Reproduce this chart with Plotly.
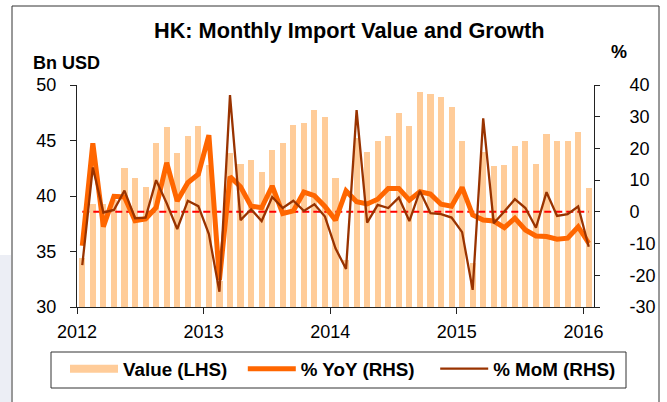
import plotly.graph_objects as go

# ---- data ----
year_ticks = ["2012", "2013", "2014", "2015", "2016"]
lhs_ticks = [30, 35, 40, 45, 50]
rhs_ticks = [-30, -20, -10, 0, 10, 20, 30, 40]
rhs_tick_text = ["-30", "-20", "-10", "0", "10", "20", "30", "40"]
n_months = 49  # Jan 2012 .. Jan 2016

value_bn = [34.4, 39.3, 39.3, 39.6, 42.5, 41.6, 40.8, 44.8, 46.25, 43.85, 45.4, 46.3,
            42.8, 32.3, 43.9, 42.85, 43.25, 42.2, 44.15, 44.75, 46.4, 46.6, 47.75, 47.1,
            41.65, 34.2, 45.2, 44.0, 44.95, 45.45, 47.5, 46.3, 49.35, 49.2, 48.9, 48.0,
            44.95, 34.0, 44.0, 42.7, 42.8, 44.5, 45.0, 42.85, 45.6, 45.0, 44.95, 45.75,
            40.75]

yoy_pct = [-10.7, 21.6, -4.7, 4.9, 4.7, -2.8, -2.2, 1.35, 15.5, 3.4, 9.2, 11.85,
           24.2, -21.5, 11.1, 7.9, 1.8, 1.3, 8.15, -0.5, 0.3, 6.25, 5.1, 1.7,
           -2.6, 6.6, 3.2, 2.5, 4.0, 7.4, 7.4, 3.7, 6.35, 5.6, 2.4, 1.8,
           7.7, -1.0, -2.6, -2.9, -5.0, -2.0, -5.7, -7.6, -7.8, -8.6, -8.3, -4.7,
           -9.9]

mom_pct = [-16.8, 14.0, -0.2, 0.6, 6.7, -2.0, -1.8, 10.0, 2.7, -5.4, 3.5, 1.8,
           -7.0, -25.2, 36.8, -2.6, 0.8, -2.9, 4.7, 1.2, 3.5, 0.3, 2.4, -1.5,
           -11.5, -18.0, 32.1, -3.4, 2.2, 1.2, 4.5, -2.9, 6.6, -0.4, -0.7, -1.8,
           -6.4, -24.6, 29.5, -3.6, 0.1, 4.0, 1.2, -5.0, 6.2, -1.3, -0.7, 1.7,
           -11.0]

zero_line = [0] * n_months

# month positions: each month occupies one unit, bar centred mid-month
x = [i + 0.5 for i in range(n_months)]
tick_pos = [12 * k for k in range(len(year_ticks))]

FONT = "Liberation Sans, Arial, sans-serif"
AX = "#222222"
TICK = 18
NB = "\u00a0"

# plot area in pixels (used only to convert layout positions to paper coords)
L, R, T, B = 77, 594, 85, 307
def px(xp):
    return (xp - L) / (R - L)
def py(yp):
    return (B - yp) / (B - T)

fig = go.Figure()
fig.add_trace(go.Bar(x=x, y=value_bn, width=0.58, marker_color="#FFCC99",
                     marker_line_width=0, name="Value (LHS)", showlegend=False))
# legend proxy for the bar (wide flat swatch like the reference)
fig.add_trace(go.Scatter(x=[None], y=[None], mode="lines", name="Value (LHS)" + NB * 2,
                         line=dict(color="#FFCC99", width=8)))
fig.add_trace(go.Scatter(x=x, y=zero_line, yaxis="y2", mode="lines", showlegend=False,
                         line=dict(color="#FF0000", width=2, dash="7px,4px")))
fig.add_trace(go.Scatter(x=x, y=yoy_pct, yaxis="y2", mode="lines", name="% YoY (RHS)" + NB * 3,
                         line=dict(color="#FF6600", width=5)))
fig.add_trace(go.Scatter(x=x, y=mom_pct, yaxis="y2", mode="lines", name="% MoM (RHS)",
                         line=dict(color="#993300", width=2.3)))

fig.update_layout(
    width=667, height=402,
    margin=dict(l=L, r=667 - R, t=T, b=402 - B, autoexpand=False),
    paper_bgcolor="white", plot_bgcolor="white",
    font=dict(family=FONT, size=TICK, color="black"),
    bargap=0,
    xaxis=dict(range=[0, 49], tickvals=tick_pos, ticktext=year_ticks,
               showline=True, linecolor=AX, linewidth=1, ticks="outside",
               ticklen=6, tickcolor=AX, showgrid=False, zeroline=False,
               tickfont=dict(size=TICK), ticklabelstandoff=2),
    yaxis=dict(range=[30, 50], tickvals=lhs_ticks,
               showline=True, linecolor=AX, linewidth=1, ticks="outside",
               ticklen=6, tickcolor=AX, showgrid=False, zeroline=False,
               tickfont=dict(size=TICK), ticklabelstandoff=10),
    yaxis2=dict(range=[-30, 40], tickvals=rhs_ticks, ticktext=rhs_tick_text,
                overlaying="y", side="right",
                showline=True, linecolor=AX, linewidth=1, ticks="outside",
                ticklen=5, tickcolor=AX, showgrid=False, zeroline=False,
                tickfont=dict(size=TICK), ticklabelstandoff=26),
    legend=dict(orientation="h", x=px(65), y=py(350), xanchor="left", yanchor="top",
                borderwidth=0, bgcolor="rgba(0,0,0,0)",
                font=dict(size=18.8, weight="bold"), itemwidth=48),
    annotations=[
        dict(text="<b>HK: Monthly Import Value and Growth</b>", xref="paper", yref="paper",
             x=px(349), y=py(30), xanchor="center", yanchor="middle", showarrow=False,
             font=dict(size=21.7)),
        dict(text="<b>Bn USD</b>", xref="paper", yref="paper", x=px(66), y=py(63),
             xanchor="center", yanchor="middle", showarrow=False, font=dict(size=18)),
        dict(text="<b>%</b>", xref="paper", yref="paper", x=px(619), y=py(52),
             xanchor="center", yanchor="middle", showarrow=False, font=dict(size=18)),
    ],
    shapes=[
        dict(type="rect", xref="paper", yref="paper",
             x0=px(0), x1=px(11), y0=py(402), y1=py(255),
             fillcolor="#eceef5", line_width=0, layer="below"),
        dict(type="rect", xref="paper", yref="paper",
             x0=px(12), x1=px(659), y0=py(420), y1=py(6),
             line=dict(color="#333333", width=1), fillcolor="rgba(0,0,0,0)"),
        # legend frame
        dict(type="rect", xref="paper", yref="paper",
             x0=px(51), x1=px(626), y0=py(388), y1=py(352),
             line=dict(color="#333333", width=1), fillcolor="white", layer="below"),
    ],
)

fig.write_html("out.html", config={"displayModeBar": False},
               post_script="document.body.style.margin='0';")
